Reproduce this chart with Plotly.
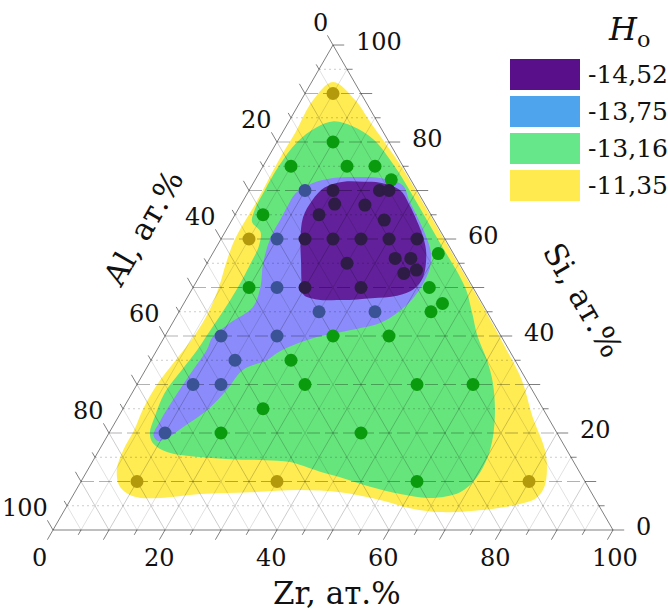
import math
import plotly.graph_objects as go

H = math.sqrt(3) / 2

# ---------------- data (at.%, Al = 100 - Si - Zr) ----------------
# measured alloys, grouped by their H_o level
YEL_SI = [90, 60, 10, 10, 10]
YEL_ZR = [5, 5, 10, 35, 80]

GRN_SI = [80, 75, 75, 75, 72.2, 65, 57, 50, 50, 46.7, 45, 40, 40, 35, 30, 30, 30, 25, 20, 20, 10]
GRN_ZR = [10, 5, 15, 20, 24.3, 5, 40.3, 10, 42.2, 46.2, 45, 30, 40, 25, 30, 50, 60, 25, 20, 45, 60]

BLU_SI = [70, 60, 50, 45, 45, 40, 40, 35, 30, 30, 20]
BLU_ZR = [10, 10, 15, 25, 35, 10, 20, 15, 10, 15, 10]

PUR_SI = [70, 70, 70, 67.2, 67, 65, 63.9, 60, 60, 60, 60, 60, 55, 56, 56, 52.9, 53.6, 50, 50]
PUR_ZR = [15, 23.3, 25, 16.7, 22.2, 15, 27.2, 15, 20, 25, 30, 35, 25, 33.1, 35.9, 36.2, 38.1, 20, 30]

# outlines of the H_o level regions (Si, Zr)
YEL_REG_SI = [55, 45, 38, 31, 23.3, 16.5, 12.4, 8.9, 6.6, 5.3, 4.3, 3.7, 4.5, 6.2, 7.8, 8.25, 7.8, 7.4,
              6.6, 6.9, 8.9, 12.4, 16.5, 20.6, 25, 30, 35, 40, 45, 50, 55, 60, 68, 76, 82, 88.5, 92.4,
              88.6, 84, 80, 75, 65]
YEL_REG_ZR = [44.8, 54.8, 61.6, 68.2, 74.0, 79.6, 82.0, 83.3, 83.0, 80.5, 75.9, 67.3, 61.5, 55.3, 47.4,
              40.0, 31.3, 22.6, 15.8, 11.0, 7.5, 5.2, 4.3, 4.2, 3.6, 3.6, 4.4, 5.2, 5.3, 4.6, 3.4, 2.5,
              2.5, 2.2, 2.3, 2.1, 3.8, 9.7, 14.7, 19.2, 24.7, 34.8]

GRN_REG_SI = [60, 50, 45, 40, 35, 30.3, 23.3, 16.5, 10.9, 7.8, 6.6, 7.4, 8.9, 10.9, 12.0, 14.0, 14.4,
              14.6, 15.05, 16.1, 17.9, 20.0, 23.3, 28.25, 33.0, 37.1, 40, 45, 50, 55, 58.5, 61.5, 63.5,
              66, 70, 75, 80, 83, 84.3, 83.2, 80.5, 75, 70]
GRN_REG_ZR = [38.7, 48.6, 52.3, 55.8, 60.0, 63.4, 67.25, 69.8, 70.25, 68.8, 64.0, 58.3, 52.2, 45.8,
              41.7, 35.3, 30.8, 24.3, 18.7, 12.3, 8.9, 7.3, 6.5, 5.8, 6.5, 7.2, 7.4, 7.8, 8.0, 7.8, 7.5,
              6.3, 3.8, 3.0, 2.8, 2.8, 3.6, 5.5, 8.0, 12.0, 17.0, 23.5, 28.7]

BLU_REG_SI = [72.8, 72.6, 71.1, 68.0, 64.0, 60.0, 57.0, 54.0, 50.3, 47.4, 44.75, 42.7, 41.2, 39.8, 38.1,
              36.5, 35.05, 33.0, 28.9, 24.7, 21.2, 19.0, 18.35, 19.5, 22.7, 28.25, 33.0, 37.1, 39.8,
              42.7, 46.0, 50.1, 55.05, 60.5, 63.9, 66.6, 69.5, 71.55, 72.6]
BLU_REG_ZR = [18.4, 22.1, 26.9, 29.6, 33.3, 36.8, 39.0, 40.3, 40.7, 40.3, 39.05, 37.05, 32.4, 27.2,
              23.8, 21.75, 20.7, 17.4, 16.6, 15.15, 12.6, 10.9, 9.6, 8.2, 7.9, 8.1, 8.5, 8.9, 8.6,
              10.25, 12.7, 12.0, 10.0, 8.7, 8.6, 8.5, 8.6, 10.65, 13.7]

PUR_REG_SI = [71.8, 71.6, 70.1, 67.4, 62.5, 60.0, 57.1, 52.2, 49.7, 48.3, 47.8, 47.4, 47.6, 48.5,
              51.0, 55.0, 60.0, 64.5, 68.0, 70.6, 71.8]
PUR_REG_ZR = [19.5, 22.6, 26.9, 29.8, 34.2, 36.2, 38.1, 40.0, 39.6, 37.3, 33.0, 28.0, 23.0, 20.5,
              18.9, 16.8, 14.2, 12.4, 12.3, 13.2, 16.0]

LEVELS = ["-14,52", "-13,75", "-13,16", "-11,35"]
TICK_VALUES = [0, 20, 40, 60, 80, 100]
GRID_STEP = 5

# ---------------- styling ----------------
FONT = "DejaVu Serif"
REG_COLORS = {"yel": "#ffec52", "grn": "#66e57c", "blu": "#8b8bfb", "pur": "#62209a"}
DOT_COLORS = {"yel": "#b39a0c", "grn": "#0b9b0e", "blu": "#3a5296", "pur": "#2e1c46"}
LEGEND_COLORS = ["#5a0f8a", "#4fa4ee", "#66e88a", "#ffeb4f"]


def to_xy(si, zr):
    return zr + si / 2.0, si * H


def closed_path(si_list, zr_list):
    xs, ys = [], []
    for s, z in zip(list(si_list) + [si_list[0]], list(zr_list) + [zr_list[0]]):
        x, y = to_xy(s, z)
        xs.append(x)
        ys.append(y)
    return xs, ys


fig = go.Figure()

# filled H_o regions
for si_l, zr_l, key in [(YEL_REG_SI, YEL_REG_ZR, "yel"), (GRN_REG_SI, GRN_REG_ZR, "grn"),
                        (BLU_REG_SI, BLU_REG_ZR, "blu"), (PUR_REG_SI, PUR_REG_ZR, "pur")]:
    xs, ys = closed_path(si_l, zr_l)
    fig.add_trace(go.Scatter(x=xs, y=ys, mode="lines", fill="toself",
                             fillcolor=REG_COLORS[key],
                             line=dict(width=0, shape="spline", smoothing=1.0),
                             hoverinfo="skip", showlegend=False))


def seg_trace(segments, color, width=1, dash="solid"):
    xs, ys = [], []
    for (x0, y0), (x1, y1) in segments:
        xs += [x0, x1, None]
        ys += [y0, y1, None]
    fig.add_trace(go.Scatter(x=xs, y=ys, mode="lines",
                             line=dict(color=color, width=width, dash=dash),
                             hoverinfo="skip", showlegend=False))


grid_vals = list(range(GRID_STEP, 100, GRID_STEP))
major = [v for v in grid_vals if v % 10 == 0]
minor = [v for v in grid_vals if v % 10 != 0]


# diagonal grid (constant Zr and constant Al)
def diag_segments(vals):
    segs = []
    for v in vals:
        segs.append((to_xy(0, v), to_xy(100 - v, v)))          # Zr = v
        segs.append((to_xy(0, 100 - v), to_xy(100 - v, 0)))    # Al = v
    return segs


seg_trace(diag_segments(minor), "rgba(0,0,0,0.12)", 1)
seg_trace(diag_segments(major), "rgba(0,0,0,0.2)", 1)

# horizontal grid (constant Si)
seg_trace([(to_xy(v, 0), to_xy(v, 100 - v)) for v in minor], "rgba(0,0,0,0.2)", 1, "2px,3px")
seg_trace([(to_xy(v, 0), to_xy(v, 100 - v)) for v in major], "rgba(0,0,0,0.3)", 1.2, "13px,5px")

# triangle frame
seg_trace([(to_xy(0, 0), to_xy(0, 100)), (to_xy(0, 100), to_xy(100, 0)), (to_xy(100, 0), to_xy(0, 0))],
          "rgba(0,0,0,0.5)", 1)

# outer tick marks
tick_segs = []
for v in range(0, 101, GRID_STEP):
    L = 2.0 if v % 10 == 0 else 1.0
    x, y = to_xy(v, 100 - v)                         # Si on right edge
    tick_segs.append(((x, y), (x + L, y)))
    x, y = to_xy(0, v)                               # Zr on bottom edge
    tick_segs.append(((x, y), (x - 0.5 * L, y - H * L)))
    x, y = to_xy(100 - v, 0)                         # Al on left edge
    tick_segs.append(((x, y), (x - 0.5 * L, y + H * L)))
seg_trace(tick_segs, "rgba(0,0,0,0.5)", 1)

# measured alloys
for si_l, zr_l, key in [(YEL_SI, YEL_ZR, "yel"), (GRN_SI, GRN_ZR, "grn"),
                        (BLU_SI, BLU_ZR, "blu"), (PUR_SI, PUR_ZR, "pur")]:
    pts = [to_xy(s, z) for s, z in zip(si_l, zr_l)]
    fig.add_trace(go.Scatter(x=[p[0] for p in pts], y=[p[1] for p in pts], mode="markers",
                             marker=dict(size=13, color=DOT_COLORS[key], line=dict(width=0)),
                             hoverinfo="skip", showlegend=False))

ann = []
tick_font = dict(family=FONT, size=24, color="#111")
for v in TICK_VALUES:
    x, y = to_xy(0, v)
    ann.append(dict(x=x, y=y, text=str(v), showarrow=False, xanchor="left", yanchor="middle",
                    xshift=-23, yshift=-28, font=tick_font))
    x, y = to_xy(v, 100 - v)
    ann.append(dict(x=x, y=y, text=str(v), showarrow=False, xanchor="left", yanchor="middle",
                    xshift=21, yshift=3, font=tick_font))
    x, y = to_xy(100 - v, 0)
    ann.append(dict(x=x, y=y, text=str(v), showarrow=False, xanchor="right", yanchor="middle",
                    xshift=-3, yshift=22, font=tick_font))

title_font = dict(family=FONT, size=31, color="#111")
ann.append(dict(xref="paper", yref="paper", x=337 / 668, y=1 - 593 / 612, text="Zr, ат.%",
                showarrow=False, xanchor="center", yanchor="middle", font=title_font))
ann.append(dict(xref="paper", yref="paper", x=143 / 668, y=1 - 228 / 612, text="Al, ат.%",
                showarrow=False, xanchor="center", yanchor="middle", textangle=-60, font=title_font))
ann.append(dict(xref="paper", yref="paper", x=583 / 668, y=1 - 300 / 612, text="Si, ат.%",
                showarrow=False, xanchor="center", yanchor="middle", textangle=60, font=title_font))

# legend
ann.append(dict(xref="paper", yref="paper", x=606 / 668, y=1 - 31 / 612, text="<i>H</i><sub>o</sub>",
                showarrow=False, xanchor="left", yanchor="middle",
                font=dict(family=FONT, size=32, color="#111")))
shapes = []
row_top = [59, 96, 133, 170]
for lab, col, top in zip(LEVELS, LEGEND_COLORS, row_top):
    shapes.append(dict(type="rect", xref="paper", yref="paper", x0=510 / 668, x1=580 / 668,
                       y0=1 - (top + 31) / 612, y1=1 - top / 612, fillcolor=col, line=dict(width=0)))
    ann.append(dict(xref="paper", yref="paper", x=586 / 668, y=1 - (top + 15.5) / 612, text=lab,
                    showarrow=False, xanchor="left", yanchor="middle",
                    font=dict(family=FONT, size=25, color="#111")))

x_lo, x_hi = -53 / 5.6, (668 - 53) / 5.6
y_lo, y_hi = (530 - 612) / 5.6, 530 / 5.6
fig.update_layout(width=668, height=612, autosize=False,
                  margin=dict(l=0, r=0, t=0, b=0),
                  paper_bgcolor="white", plot_bgcolor="white",
                  xaxis=dict(range=[x_lo, x_hi], visible=False, fixedrange=True),
                  yaxis=dict(range=[y_lo, y_hi], visible=False, fixedrange=True),
                  annotations=ann, shapes=shapes)

fig.write_html("out.html")
